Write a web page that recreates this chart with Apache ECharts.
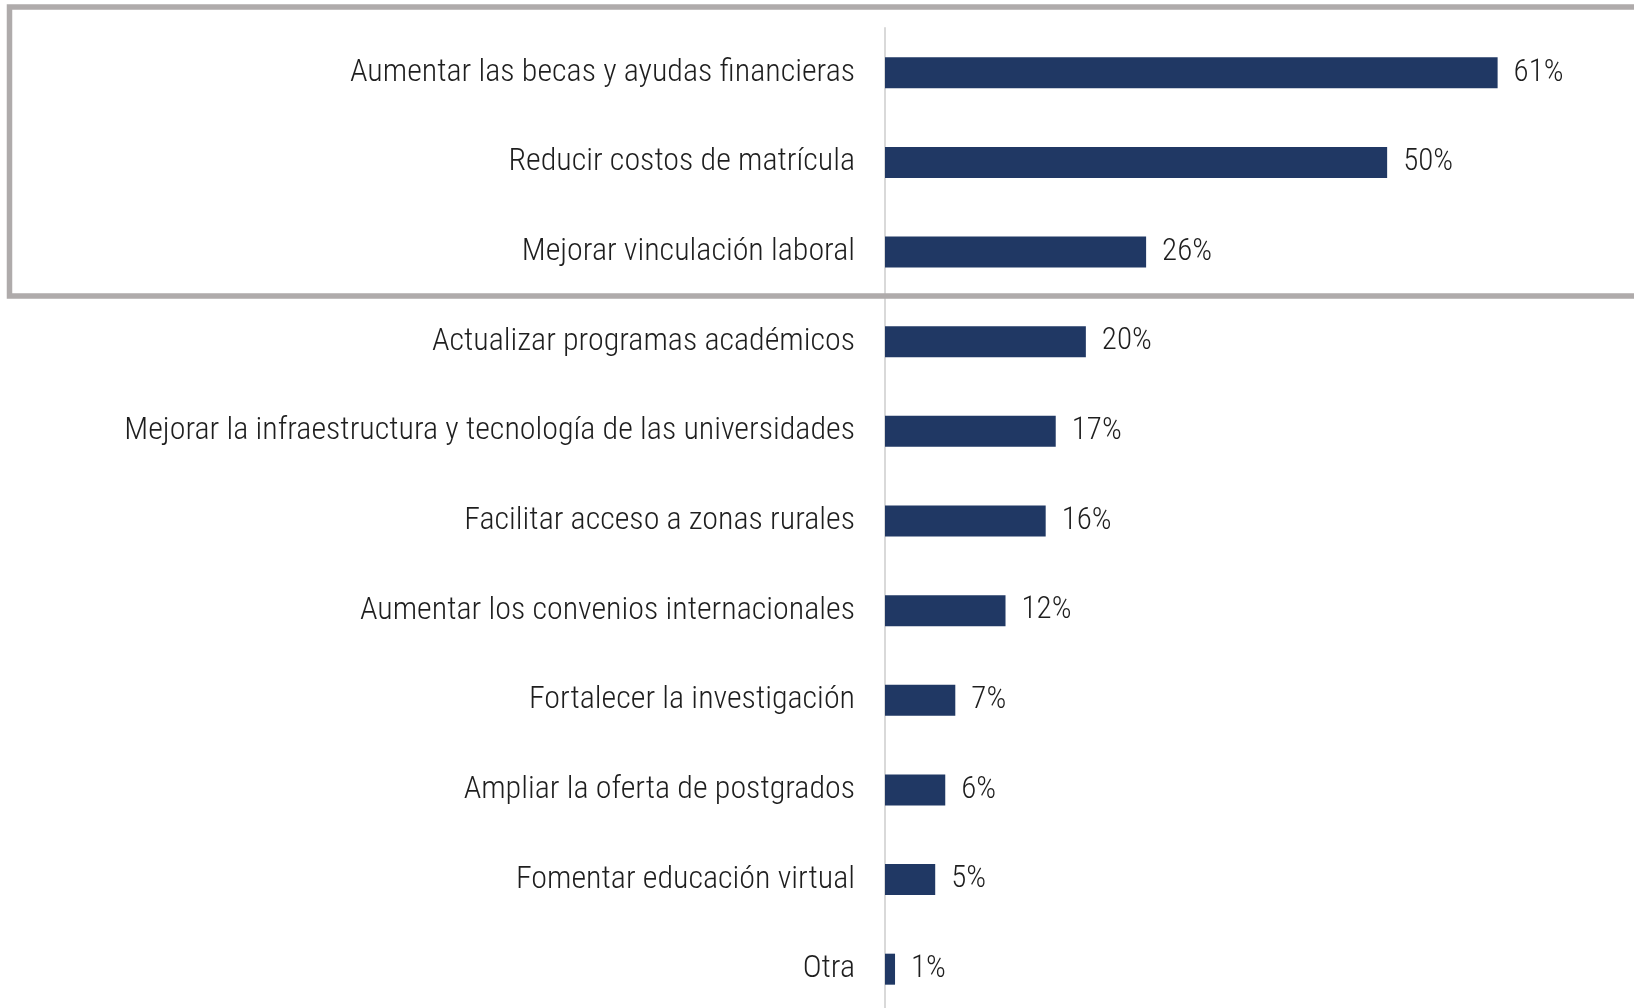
<!DOCTYPE html>
<html>
<head>
<meta charset="utf-8">
<script src="https://cdn.jsdelivr.net/npm/echarts@6/dist/echarts.min.js"></script>
<style>
  html, body { margin: 0; padding: 0; background: #ffffff; }
  #chart { width: 1634px; height: 1008px; }
</style>
</head>
<body>
<div id="chart"></div>
<script>
// Survey answers: measures proposed to improve access to higher education
const categories = [
  'Aumentar las becas y ayudas financieras',
  'Reducir costos de matrícula',
  'Mejorar vinculación laboral',
  'Actualizar programas académicos',
  'Mejorar la infraestructura y tecnología de las universidades',
  'Facilitar acceso a zonas rurales',
  'Aumentar los convenios internacionales',
  'Fortalecer la investigación',
  'Ampliar la oferta de postgrados',
  'Fomentar educación virtual',
  'Otra'
];
const shares = [61, 50, 26, 20, 17, 16, 12, 7, 6, 5, 1];

const FONT = "'Roboto Condensed', 'Liberation Sans Narrow', 'Arial Narrow', 'DejaVu Sans Condensed', Roboto, sans-serif";

const chart = echarts.init(document.getElementById('chart'), null, { renderer: 'canvas' });

chart.setOption({
  animation: false,
  backgroundColor: '#ffffff',
  // the last row runs slightly past the bottom edge of the page
  grid: {
    left: 885, top: 28, width: 703, height: 986,
    containLabel: false,
    outerBoundsMode: 'none'
  },
  xAxis: {
    type: 'value',
    min: 0,
    max: 70,
    show: false
  },
  yAxis: {
    type: 'category',
    data: categories,
    inverse: true,
    axisLine: { show: true, lineStyle: { color: '#d9d9d9', width: 2 } },
    axisTick: { show: false },
    axisLabel: {
      margin: 30,
      fontFamily: FONT,
      fontWeight: 300,
      fontSize: 32,
      color: '#1e1e1e',
      padding: [7, 0, 0, 0]
    },
    splitLine: { show: false }
  },
  series: [{
    type: 'bar',
    data: shares,
    barWidth: 31,
    itemStyle: { color: '#203864' },
    label: {
      show: true,
      position: 'right',
      distance: 16,
      formatter: p => p.value + '%',
      fontFamily: FONT,
      fontWeight: 300,
      fontSize: 31,
      color: '#1e1e1e',
      padding: [7, 0, 0, 0]
    }
  }],
  // highlight frame around the three most frequent answers
  graphic: [{
    type: 'rect',
    silent: true,
    z: 100,
    shape: { x: 9.5, y: 7, width: 1700, height: 289 },
    style: { fill: 'none', stroke: '#afabab', lineWidth: 5.5 }
  }]
});
</script>
</body>
</html>
